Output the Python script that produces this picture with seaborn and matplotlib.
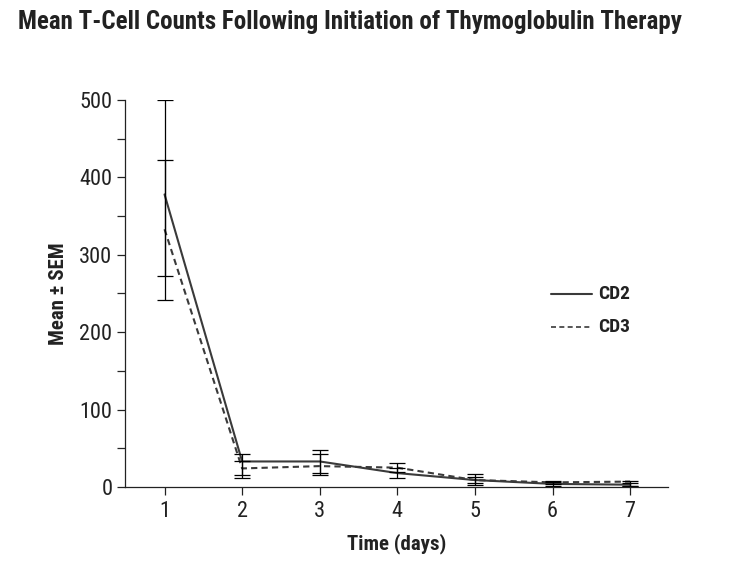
import numpy as np
import pandas as pd
import matplotlib
matplotlib.use("Agg")
import matplotlib.pyplot as plt
import seaborn as sns

days = [1, 2, 3, 4, 5, 6, 7]
cd2_mean = [378, 33, 33, 18, 9, 4, 3]
cd2_low = [272, 11, 15, 12, 3, 1, 1]
cd2_high = [500, 42, 48, 24, 17, 7, 5]
cd3_mean = [333, 24, 27, 25, 9, 6, 7]
cd3_low = [242, 16, 18, 19, 5, 4, 1]
cd3_high = [422, 33, 43, 31, 13, 8, 8]


def main():
    sns.set_theme(style="ticks")
    plt.rcParams['font.family'] = ['Roboto Condensed', 'DejaVu Sans']

    df = pd.DataFrame({
        'day': days * 2,
        'value': cd2_mean + cd3_mean,
        'series': ['CD2'] * 7 + ['CD3'] * 7,
    })

    fig = plt.figure(figsize=(7.36, 5.70), dpi=100)
    ax = fig.add_axes([0.1698, 0.1456, 0.738, 0.679])

    sns.lineplot(data=df, x='day', y='value', style='series',
                 dashes={'CD2': '', 'CD3': (3, 2)}, color='#3a3a3a',
                 linewidth=1.5, ax=ax, legend=False)

    for mean, low, high in [(cd2_mean, cd2_low, cd2_high),
                            (cd3_mean, cd3_low, cd3_high)]:
        m = np.array(mean)
        yerr = [m - np.array(low), np.array(high) - m]
        ax.errorbar(days, m, yerr=yerr, fmt='none', ecolor='black',
                    elinewidth=0.9, capsize=5.5, capthick=0.9)

    # legend drawn as a manual key
    ax.plot([5.98, 6.51], [249, 249], color='#3a3a3a', lw=1.5)
    ax.plot([5.98, 6.51], [207, 207], color='#3a3a3a', lw=1.2, dashes=(3, 2))
    ax.text(6.585, 249, 'CD2', va='center', ha='left', fontsize=14, fontweight='bold', color='#222')
    ax.text(6.585, 207, 'CD3', va='center', ha='left', fontsize=14, fontweight='bold', color='#222')

    ax.set_xlim(0.49, 7.49)
    ax.set_ylim(0, 500)
    ax.set_xticks(days)
    ax.set_yticks([0, 100, 200, 300, 400, 500])
    ax.set_yticks(np.arange(50, 500, 100), minor=True)
    ax.tick_params(axis='both', labelsize=16, colors='#222', length=6, width=0.9, pad=3)
    ax.tick_params(axis='x', pad=4)
    ax.tick_params(axis='y', which='minor', length=6, width=0.9)
    for s in ['top', 'right']:
        ax.spines[s].set_visible(False)
    for s in ['left', 'bottom']:
        ax.spines[s].set_linewidth(0.9)
        ax.spines[s].set_color('#222')

    ax.set_xlabel('Time (days)', fontsize=15, fontweight='bold', color='#222', labelpad=8)
    ax.set_ylabel('Mean \u00b1 SEM', fontsize=15, fontweight='bold', color='#222', labelpad=8)

    fig.text(0.024, 0.962, 'Mean T-Cell Counts Following Initiation of Thymoglobulin Therapy',
             fontsize=18, fontweight='bold', color='#222', va='center', ha='left')

    fig.savefig('out.png', dpi=100)


if __name__ == "__main__":
    main()
